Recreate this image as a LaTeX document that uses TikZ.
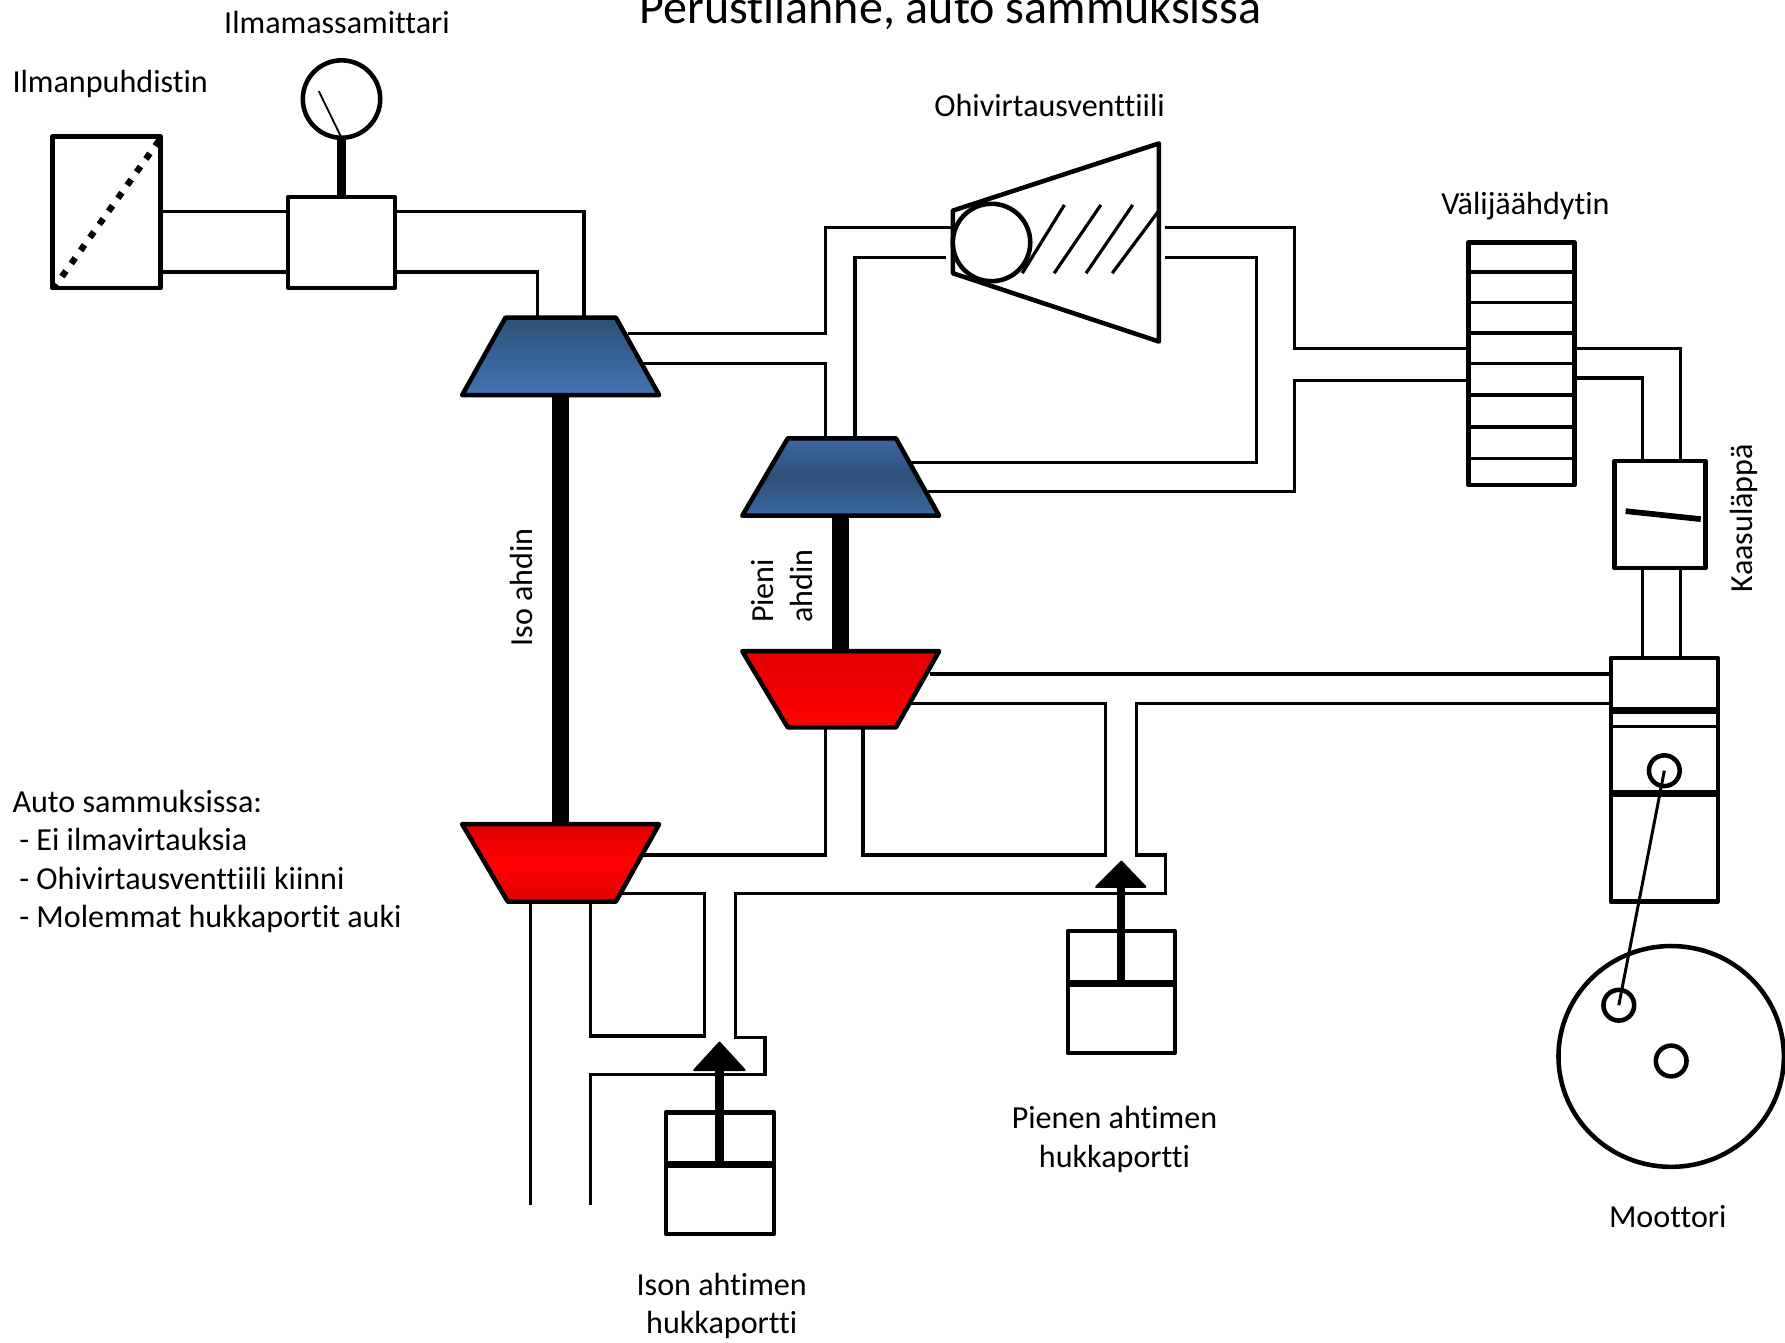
\documentclass[tikz,border=0pt]{standalone}
\usepackage{fontspec}
\setmainfont[Ligatures=NoCommon]{Carlito}
\definecolor{bluetop}{HTML}{2E5078}
\definecolor{bluebot}{HTML}{4273B2}
\definecolor{bluemid}{HTML}{2D4F78}
\definecolor{bluelo}{HTML}{3B68A2}
\definecolor{redtop}{HTML}{E00000}
\definecolor{redmid}{HTML}{FF0000}
\usetikzlibrary{shapes.geometric}
\tikzset{
  pipe/.style={draw=black,line width=1.4pt,line join=miter,line cap=rect},
  boxpart/.style={draw=black,fill=white,line width=2pt,rectangle,inner sep=0pt,outer sep=0pt,line join=round},
  wheel/.style={draw=black,fill=white,line width=2pt,ellipse,inner sep=0pt,outer sep=0pt},
  pin/.style={wheel,minimum width=13.5pt,minimum height=13.5pt},
  shaft/.style={line width=7.5pt,line cap=butt},
  rod/.style={line width=3.6pt,line cap=butt},
  slat/.style={line width=1.4pt},
  piston/.style={line width=3pt},
  wheelpart/.style={draw=black,line width=2pt,line join=round},
  lab/.style={font=\fontsize{14.1}{16.85}\selectfont,inner sep=0pt,outer sep=0pt,text=black},
}
\begin{document}
\begin{tikzpicture}[x=0.5pt,y=-0.5pt]
\useasboundingbox (0,0) rectangle (1568,1179);
% components that pipes refer to
\path
  node[boxpart,minimum width=47.5pt,minimum height=66.5pt] (filter) at (93.5,186.5) {}
  node[boxpart,minimum width=47pt,minimum height=40pt] (maf) at (300,213) {}
  node[boxpart,minimum width=46.5pt,minimum height=106.5pt] (cooler) at (1336.5,319.5) {}
  node[boxpart,minimum width=40pt,minimum height=47pt] (throttle) at (1458,452) {}
  node[boxpart,minimum width=47pt,minimum height=107pt] (engine) at (1462,685) {}
  coordinate (c1top) at (492,279) coordinate (c1bot) at (492,347)
  coordinate (c2top) at (738,385) coordinate (c2bot) at (738,453)
  coordinate (t2top) at (738,572) coordinate (t2bot) at (738,639)
  coordinate (t1top) at (492,724) coordinate (t1bot) at (492,792);
% pipes
\draw[pipe] (filter.east |- 0,186) -- (maf.west |- 0,186);
\draw[pipe] (filter.east |- 0,239) -- (maf.west |- 0,239);
\draw[pipe] (maf.east |- 0,186) -- (513,186) -- (c1top -| 513,0);
\draw[pipe] (maf.east |- 0,239) -- (472,239) -- (c1top -| 472,0);
\draw[pipe] (553,293) -- (725,293) -- (725,200) -- (838,200);
\draw[pipe] (566,319) -- (725,319) -- (c2top -| 725,0);
\draw[pipe] (c2top -| 751,0) -- (751,226) -- (830,226);
\draw[pipe] (1025,200) -- (1137,200) -- (1137,306) -- (cooler.west |- 0,306);
\draw[pipe] (1025,226) -- (1104,226) -- (1104,406) -- (799,406);
\draw[pipe] (817,432) -- (1137,432) -- (1137,334) -- (cooler.west |- 0,334);
\draw[pipe] (cooler.east |- 0,306) -- (1476,306) -- (throttle.north -| 1476,0);
\draw[pipe] (cooler.east |- 0,332) -- (1443,332) -- (throttle.north -| 1443,0);
\draw[pipe] (throttle.south -| 1443,0) -- (engine.north -| 1443,0);
\draw[pipe] (throttle.south -| 1476,0) -- (engine.north -| 1476,0);
\draw[pipe] (818,592) -- (engine.west |- 0,592);
\draw[pipe] (800,618) -- (971,618) -- (971,751) -- (758,751) -- (t2bot -| 758,0);
\draw[pipe] (t2bot -| 725,0) -- (725,751) -- (565,751);
\draw[pipe] (engine.west |- 0,618) -- (998,618) -- (998,751) -- (1024,751) -- (1024,785) -- (646,785) -- (646,911) -- (672,911) -- (672,944) -- (519,944) -- (519,1057);
\draw[pipe] (546,785) -- (619,785) -- (619,910) -- (519,910) -- (t1bot -| 519,0);
\draw[pipe] (t1bot -| 466,0) -- (466,1057);
% shafts
\draw[shaft] (c1bot) -- (t1top);
\draw[shaft] (c2bot) -- (t2top);
% turbo wheels
\path[wheelpart,top color=bluetop,bottom color=bluebot] (444,279) -- (541,279) -- (579,347) -- (406,347) -- cycle;
\path[wheelpart,top color=bluelo,bottom color=bluelo,middle color=bluemid] (692,385) -- (787,385) -- (825,453) -- (652,453) -- cycle;
\path[wheelpart,top color=redtop,bottom color=redmid] (652,572) -- (825,572) -- (787,639) -- (692,639) -- cycle;
\path[wheelpart,top color=redtop,bottom color=redtop,middle color=redmid] (406,724) -- (579,724) -- (541,792) -- (446,792) -- cycle;
% air filter
\draw[line width=2.8pt,dash pattern=on 3pt off 4.05pt,dash phase=1.5pt] (48,252) -- (140,123);
% air mass meter
\node[wheel,minimum width=34pt,minimum height=34pt] (gauge) at (300,87) {};
\draw[line width=0.8pt] (280,80) -- (gauge.south);
\draw[rod] (gauge.south) -- (maf.north);
% bypass valve
\draw[black,fill=white,line width=2pt,line join=round] (837,185) -- (1018,126) -- (1018,300) -- (837,240) -- cycle;
\draw[slat] (935,180) -- (898,240) (967,180) -- (926,240) (995,180) -- (954,240) (1018,185) -- (977,240);
\node[wheel,minimum width=34pt,minimum height=34pt] (bypass) at (871,213) {};
% intercooler fins
\foreach \fy in {239,265.5,292.5,319,347,375,403}
  \draw[slat] (cooler.west |- 0,\fy) -- (cooler.east |- 0,\fy);
% throttle flap
\draw[line width=2.5pt] (1428,449) -- (1494,456);
% engine
\draw[piston] (engine.west |- 0,624) -- (engine.east |- 0,624);
\draw[line width=1.2pt] (engine.west |- 0,638) -- (engine.east |- 0,638);
\draw[piston] (engine.west |- 0,697) -- (engine.east |- 0,697);
\node[pin] (wrist) at (1462,677) {};
\node[wheel,minimum width=99pt,minimum height=97pt] (crank) at (1468,928) {};
\node[pin] (crankpin) at (1422,883) {};
\node[pin] (crankaxis) at (1468,932) {};
\draw[line width=1.3pt] (wrist.center) -- (crankpin.center);
% wastegates
\node[boxpart,minimum width=47.5pt,minimum height=53.5pt] (wgbig) at (632.5,1030.5) {};
\draw[piston] (wgbig.west |- 0,1023) -- (wgbig.east |- 0,1023);
\draw[rod] (632,1023) -- (632,938);
\fill[draw=black,line width=1pt,line join=round] (632,916) -- (654,940) -- (610,940) -- cycle;
\node[boxpart,minimum width=47pt,minimum height=53.5pt] (wgsmall) at (985,871.5) {};
\draw[piston] (wgsmall.west |- 0,864) -- (wgsmall.east |- 0,864);
\draw[rod] (985,864) -- (985,778);
\fill[draw=black,line width=1pt,line join=round] (985,757) -- (1006,779) -- (963,779) -- cycle;
% labels
\node[font=\fontsize{21.1}{24}\selectfont,inner sep=0pt] (title) at (835,9) {Perustilanne, auto sammuksissa};
\node[lab] (lmaf) at (296,20) {Ilmamassamittari};
\node[lab,anchor=west] (lfilter) at (11,74) {Ilmanpuhdistin};
\node[lab] (lvalve) at (922,93) {Ohivirtausventtiili};
\node[lab] (lcooler) at (1340,181) {Välijäähdytin};
\node[lab,rotate=90] (lthrottle) at (1532,455) {Kaasuläppä};
\node[lab,rotate=90] (lbig) at (458,516) {Iso ahdin};
\node[lab,rotate=90,align=left] (lsmall) at (687,515) {Pieni\\ahdin};
\node[lab,align=left,anchor=north west] (lstate) at (11,694) {Auto sammuksissa:\\\hspace*{3pt}- Ei ilmavirtauksia\\\hspace*{3pt}- Ohivirtausventtiili kiinni\\\hspace*{3pt}- Molemmat hukkaportit auki};
\node[lab,align=center] (lwgsmall) at (979,1001) {Pienen ahtimen\\ hukkaportti};
\node[lab,align=center] (lwgbig) at (634,1147) {Ison ahtimen\\ hukkaportti};
\node[lab] (lengine) at (1465,1069) {Moottori};
\end{tikzpicture}
\end{document}
